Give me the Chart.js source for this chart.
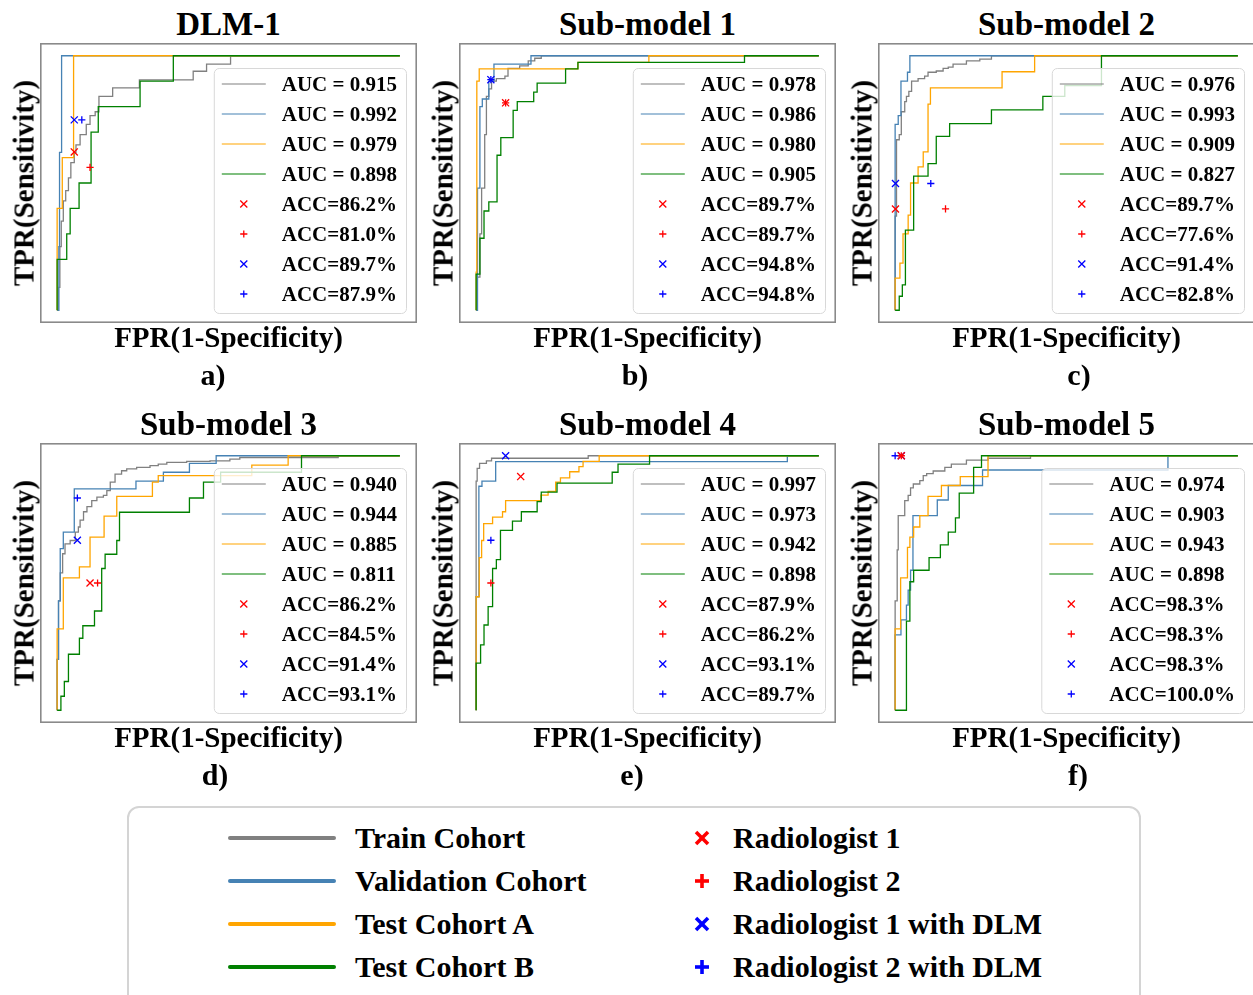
<!DOCTYPE html>
<html>
<head>
<meta charset="utf-8">
<script src="https://cdn.jsdelivr.net/npm/chart.js@4.4.1/dist/chart.umd.min.js"></script>
<style>
  html, body { margin: 0; padding: 0; background: #fff; }
  body { position: relative; width: 1253px; height: 995px; overflow: hidden;
         font-family: "Liberation Serif", "Times New Roman", serif; font-weight: bold; color: #000; }
  canvas.roc { position: absolute; }
  .lbl { position: absolute; white-space: nowrap; line-height: 1; transform: translateX(-50%); }
  .ylbl { position: absolute; white-space: nowrap; line-height: 1; font-size: 29px;
          transform: translate(-50%, -50%) rotate(-90deg); }
  #bigLegend { position: absolute; left: 127px; top: 806px; width: 1010px; height: 230px;
               border: 2px solid #d4d4d4; border-radius: 12px; background: #fff; }
  .row { position: absolute; height: 43px; display: flex; align-items: center; font-size: 30px; line-height: 1; }
  .swatch { position: absolute; left: 228px; width: 108px; height: 4px; border-radius: 2px; }
</style>
</head>
<body>
<div id="bigLegend"></div>
<script>
// ---- data (FPR, TPR) ----
const titles = ['DLM-1', 'Sub-model 1', 'Sub-model 2', 'Sub-model 3', 'Sub-model 4', 'Sub-model 5'];
const panelLetters = ['a)', 'b)', 'c)', 'd)', 'e)', 'f)'];
const cohortNames = ['Train Cohort', 'Validation Cohort', 'Test Cohort A', 'Test Cohort B'];
const readerNames = ['Radiologist 1', 'Radiologist 2', 'Radiologist 1 with DLM', 'Radiologist 2 with DLM'];

// a) DLM-1
const aTrain = [[0,0],[0.004,0.09],[0.008,0.25],[0.012,0.35],[0.018,0.43],[0.025,0.47],[0.033,0.52],[0.04,0.58],[0.05,0.62],[0.055,0.65],[0.067,0.69],[0.085,0.73],[0.096,0.765],[0.111,0.78],[0.122,0.84],[0.162,0.874],[0.24,0.905],[0.397,0.939],[0.436,0.967],[0.506,1],[1,1]];
const aVal = [[0,0],[0.005,0.25],[0.007,0.62],[0.013,1],[1,1]];
const aTestA = [[0,0],[0,0.40],[0.015,0.60],[0.048,1],[1,1]];
const aTestB = [[0,0],[0,0.20],[0.028,0.30],[0.038,0.40],[0.064,0.50],[0.099,0.70],[0.12,0.80],[0.242,0.90],[0.339,1],[1,1]];
const aReaders = [[0.05,0.622],[0.096,0.561],[0.05,0.748],[0.072,0.748]];
const aAuc = ['0.915', '0.992', '0.979', '0.898'];
const aAcc = ['86.2', '81.0', '89.7', '87.9'];

// b) Sub-model 1
const bTrain = [[0,0],[0.003,0.13],[0.011,0.30],[0.016,0.48],[0.025,0.69],[0.03,0.84],[0.037,0.87],[0.045,0.90],[0.059,0.91],[0.084,0.92],[0.093,0.95],[0.127,0.96],[0.152,0.98],[0.171,0.99],[0.19,1],[1,1]];
const bVal = [[0,0],[0.004,0.48],[0.011,0.80],[0.018,0.83],[0.037,0.90],[0.052,0.967],[0.16,1],[1,1]];
const bTestA = [[0,0],[0,0.15],[0.002,0.90],[0.009,0.948],[0.297,0.974],[0.504,1],[1,1]];
const bTestB = [[0,0],[0,0.142],[0.011,0.283],[0.023,0.39],[0.037,0.426],[0.061,0.609],[0.072,0.678],[0.108,0.785],[0.12,0.82],[0.168,0.857],[0.178,0.892],[0.261,0.948],[0.297,0.974],[0.783,1],[1,1]];
const bReaders = [[0.086,0.815],[0.086,0.815],[0.043,0.906],[0.043,0.906]];
const bAuc = ['0.978', '0.986', '0.980', '0.905'];
const bAcc = ['89.7', '89.7', '94.8', '94.8'];

// c) Sub-model 2
const cTrain = [[0,0],[0,0.37],[0.004,0.67],[0.012,0.69],[0.018,0.78],[0.028,0.82],[0.033,0.84],[0.04,0.86],[0.048,0.90],[0.067,0.91],[0.086,0.92],[0.096,0.935],[0.12,0.94],[0.14,0.95],[0.155,0.955],[0.169,0.967],[0.208,0.98],[0.247,0.987],[0.281,1],[1,1]];
const cVal = [[0,0],[0,0.73],[0.009,0.765],[0.017,0.90],[0.036,0.935],[0.043,1],[1,1]];
const cTestA = [[0,0],[0,0.126],[0.014,0.185],[0.023,0.30],[0.038,0.374],[0.045,0.50],[0.067,0.563],[0.082,0.622],[0.096,0.81],[0.103,0.874],[0.312,0.937],[0.407,1],[1,1]];
const cTestB = [[0,0],[0.012,0.055],[0.021,0.10],[0.030,0.315],[0.054,0.527],[0.096,0.576],[0.12,0.683],[0.159,0.733],[0.281,0.787],[0.431,0.84],[0.495,0.883],[0.602,1],[1,1]];
const cReaders = [[0.001,0.398],[0.147,0.398],[0.001,0.498],[0.104,0.498]];
const cAuc = ['0.976', '0.993', '0.909', '0.827'];
const cAcc = ['89.7', '77.6', '91.4', '82.8'];

// d) Sub-model 3
const dTrain = [[0,0],[0,0.20],[0.004,0.43],[0.009,0.54],[0.016,0.615],[0.023,0.654],[0.038,0.667],[0.053,0.70],[0.062,0.72],[0.067,0.747],[0.077,0.78],[0.087,0.80],[0.101,0.824],[0.116,0.837],[0.135,0.844],[0.145,0.863],[0.155,0.896],[0.169,0.928],[0.188,0.941],[0.203,0.948],[0.232,0.954],[0.271,0.961],[0.295,0.967],[0.32,0.974],[0.378,0.978],[0.446,0.98],[0.504,0.987],[0.533,0.993],[0.82,1],[1,1]];
const dVal = [[0,0],[0,0.2],[0.004,0.43],[0.009,0.635],[0.018,0.70],[0.05,0.87],[0.23,0.90],[0.31,0.935],[0.386,0.97],[0.464,1],[1,1]];
const dTestA = [[0,0],[0,0.32],[0.018,0.52],[0.065,0.563],[0.096,0.68],[0.137,0.763],[0.174,0.84],[0.278,0.896],[0.295,0.922],[0.568,0.963],[0.674,1],[1,1]];
const dTestB = [[0,0],[0.011,0.055],[0.021,0.113],[0.033,0.22],[0.065,0.283],[0.075,0.332],[0.109,0.39],[0.13,0.557],[0.14,0.613],[0.174,0.667],[0.182,0.778],[0.386,0.834],[0.427,0.896],[0.477,0.935],[0.713,1],[1,1]];
const dReaders = [[0.096,0.50],[0.118,0.50],[0.059,0.668],[0.059,0.834]];
const dAuc = ['0.940', '0.944', '0.885', '0.811'];
const dAcc = ['86.2', '84.5', '91.4', '93.1'];

// e) Sub-model 4
const eTrain = [[0,0],[0,0.90],[0.003,0.95],[0.01,0.97],[0.03,0.98],[0.045,0.99],[0.327,1],[1,1]];
const eVal = [[0,0],[0,0.446],[0.008,0.88],[0.017,0.90],[0.057,0.977],[0.908,1],[1,1]];
const eTestA = [[0,0],[0,0.446],[0.009,0.60],[0.016,0.667],[0.022,0.733],[0.048,0.759],[0.077,0.78],[0.086,0.824],[0.189,0.845],[0.21,0.86],[0.232,0.896],[0.246,0.913],[0.273,0.937],[0.3,0.957],[0.312,0.978],[0.359,1],[1,1]];
const eTestB = [[0,0],[0,0.185],[0.013,0.257],[0.023,0.335],[0.035,0.407],[0.048,0.557],[0.059,0.592],[0.071,0.707],[0.106,0.743],[0.132,0.78],[0.178,0.82],[0.19,0.857],[0.236,0.892],[0.397,0.935],[0.414,0.967],[0.506,1],[1,1]];
const eReaders = [[0.13,0.918],[0.043,0.50],[0.086,1.0],[0.043,0.668]];
const eAuc = ['0.997', '0.973', '0.942', '0.898'];
const eAcc = ['87.9', '86.2', '93.1', '89.7'];

// f) Sub-model 5
const fTrain = [[0,0],[0,0.43],[0.006,0.63],[0.009,0.765],[0.028,0.824],[0.038,0.844],[0.045,0.874],[0.053,0.889],[0.072,0.902],[0.082,0.922],[0.092,0.93],[0.111,0.94],[0.145,0.954],[0.164,0.967],[0.208,0.983],[0.271,0.99],[0.395,1],[1,1]];
const fVal = [[0,0],[0,0.296],[0.017,0.355],[0.033,0.413],[0.038,0.472],[0.045,0.55],[0.052,0.765],[0.123,0.826],[0.155,0.883],[0.255,0.944],[0.796,1],[1,1]];
const fTestA = [[0,0],[0,0.32],[0.016,0.52],[0.036,0.64],[0.043,0.68],[0.054,0.72],[0.072,0.765],[0.096,0.84],[0.135,0.883],[0.19,0.918],[0.271,1],[1,1]];
const fTestB = [[0,0],[0.033,0.35],[0.043,0.505],[0.054,0.55],[0.099,0.60],[0.132,0.65],[0.155,0.70],[0.176,0.756],[0.187,0.853],[0.229,0.954],[0.252,1],[1,1]];
const fReaders = [[0.018,1.0],[0.018,1.0],[0.018,1.0],[0.0,1.0]];
const fAuc = ['0.974', '0.903', '0.943', '0.898'];
const fAcc = ['98.3', '98.3', '98.3', '100.0'];

// ---- styles ----
const lineColors = ['#808080', '#4682b4', '#ffa500', '#008000'];
const markerColors = ['#ff0000', '#ff0000', '#0000ff', '#0000ff'];
const markerStyles = ['crossRot', 'cross', 'crossRot', 'cross'];
const FONT = '"Liberation Serif", "Times New Roman", serif';

const panels = [
  { curves: [aTrain, aVal, aTestA, aTestB], readers: aReaders, auc: aAuc, acc: aAcc },
  { curves: [bTrain, bVal, bTestA, bTestB], readers: bReaders, auc: bAuc, acc: bAcc },
  { curves: [cTrain, cVal, cTestA, cTestB], readers: cReaders, auc: cAuc, acc: cAcc },
  { curves: [dTrain, dVal, dTestA, dTestB], readers: dReaders, auc: dAuc, acc: dAcc },
  { curves: [eTrain, eVal, eTestA, eTestB], readers: eReaders, auc: eAuc, acc: eAcc },
  { curves: [fTrain, fVal, fTestA, fTestB], readers: fReaders, auc: fAuc, acc: fAcc }
];

// layout of the six axes frames
const frameLeft = [40, 459, 878];
const frameTop = [43, 443];
const W = 377, H = 280;
const letterX = [213, 635, 1079, 215, 632, 1078];

// frame + inset legend drawn on top of the curves
const framePlugin = {
  id: 'frameAndLegend',
  afterDatasetsDraw(chart) {
    const ctx = chart.ctx;
    const ca = chart.chartArea;
    ctx.save();
    ctx.strokeStyle = '#8a8a8a';
    ctx.lineWidth = 1.6;
    ctx.strokeRect(ca.left + 0.8, ca.top + 0.8, ca.right - ca.left - 1.6, ca.bottom - ca.top - 1.6);

    ctx.font = 'bold 21px ' + FONT;
    const sets = chart.data.datasets;
    let maxW = 0;
    sets.forEach(ds => { maxW = Math.max(maxW, ctx.measureText(ds.label).width); });
    const w = 68 + maxW + 9, h = 245;
    const x0 = ca.right - 11 - w, y0 = ca.bottom - 10 - h;
    ctx.beginPath();
    ctx.roundRect(x0 + 0.5, y0 + 0.5, w, h, 5);
    ctx.fillStyle = 'rgba(255,255,255,0.8)';
    ctx.fill();
    ctx.strokeStyle = '#d8d8d8';
    ctx.lineWidth = 1;
    ctx.stroke();

    sets.forEach((ds, i) => {
      const cy = y0 + 16 + i * 30;
      if (ds.showLine) {
        ctx.strokeStyle = ds.borderColor;
        ctx.lineWidth = 1.2;
        ctx.beginPath();
        ctx.moveTo(x0 + 8, cy);
        ctx.lineTo(x0 + 52, cy);
        ctx.stroke();
      } else {
        ctx.strokeStyle = ds.borderColor;
        ctx.fillStyle = ds.borderColor;
        ctx.lineWidth = ds.borderWidth;
        Chart.helpers.drawPoint(ctx, { pointStyle: ds.pointStyle, radius: ds.pointRadius, rotation: 0, borderWidth: ds.borderWidth }, x0 + 30, cy);
      }
      ctx.fillStyle = '#000';
      ctx.fillText(ds.label, x0 + 68, cy + 7);
    });
    ctx.restore();
  }
};

function addText(cls, text, css) {
  const d = document.createElement('div');
  d.className = cls;
  d.textContent = text;
  Object.assign(d.style, css);
  document.body.appendChild(d);
}

panels.forEach((p, k) => {
  const col = k % 3, row = Math.floor(k / 3);
  const left = frameLeft[col], top = frameTop[row];

  const cv = document.createElement('canvas');
  cv.className = 'roc';
  cv.width = W; cv.height = H;
  cv.style.left = left + 'px';
  cv.style.top = top + 'px';
  cv.style.width = W + 'px';
  cv.style.height = H + 'px';
  document.body.appendChild(cv);

  const datasets = [];
  p.curves.forEach((c, i) => {
    datasets.push({
      label: 'AUC = ' + p.auc[i],
      data: c.map(pt => ({ x: pt[0], y: pt[1] })),
      showLine: true,
      stepped: true,
      borderColor: lineColors[i],
      borderWidth: 1.3,
      pointRadius: 0,
      pointHitRadius: 0,
      fill: false,
      order: 4 - i
    });
  });
  p.readers.forEach((r, i) => {
    const isX = markerStyles[i] === 'crossRot';
    datasets.push({
      label: 'ACC=' + p.acc[i] + '%',
      data: [{ x: r[0], y: r[1] }],
      showLine: false,
      pointStyle: markerStyles[i],
      pointRadius: isX ? 5 : 3.6,
      borderWidth: 1.3,
      borderColor: markerColors[i],
      backgroundColor: markerColors[i],
      order: 0
    });
  });

  new Chart(cv.getContext('2d'), {
    type: 'scatter',
    data: { datasets: datasets },
    options: {
      responsive: false,
      animation: false,
      devicePixelRatio: 1,
      layout: { padding: 0, autoPadding: false },
      scales: {
        x: { type: 'linear', min: -0.05, max: 1.05, display: false },
        y: { type: 'linear', min: -0.05, max: 1.05, display: false }
      },
      plugins: { legend: { display: false }, tooltip: { enabled: false } }
    },
    plugins: [framePlugin]
  });

  const cx = left + W / 2;
  addText('lbl', titles[k], { left: cx + 'px', top: (top - 35) + 'px', fontSize: '33px' });
  addText('lbl', 'FPR(1-Specificity)', { left: cx + 'px', top: (top + 280) + 'px', fontSize: '29px' });
  addText('lbl', panelLetters[k], { left: letterX[k] + 'px', top: (top + 317) + 'px', fontSize: '30px' });
  addText('ylbl', 'TPR(Sensitivity)', { left: (left - 16) + 'px', top: (top + H / 2) + 'px' });
});

// ---- shared legend at the bottom ----
const big = document.getElementById('bigLegend');
const rowCenters = [838, 881, 924, 967];
function markerSvg(style, color) {
  const s = style === 'crossRot'
    ? '<line x1="2" y1="2" x2="14" y2="14"/><line x1="14" y1="2" x2="2" y2="14"/>'
    : '<line x1="8" y1="1" x2="8" y2="15"/><line x1="1" y1="8" x2="15" y2="8"/>';
  return '<svg width="16" height="16" style="position:absolute;left:565px;" stroke="' + color +
         '" stroke-width="3.6" stroke-linecap="butt">' + s + '</svg>';
}
cohortNames.forEach((name, i) => {
  const r = document.createElement('div');
  r.className = 'row';
  r.style.left = '0px';
  r.style.width = '1010px';
  r.style.top = (rowCenters[i] - 21.5 - 808) + 'px';
  r.innerHTML = '<div class="swatch" style="left:99px;background:' + lineColors[i] + '"></div>' +
                '<span style="position:absolute;left:226px;">' + name + '</span>' +
                markerSvg(markerStyles[i], markerColors[i]) +
                '<span style="position:absolute;left:604px;">' + readerNames[i] + '</span>';
  big.appendChild(r);
});
</script>
</body>
</html>
